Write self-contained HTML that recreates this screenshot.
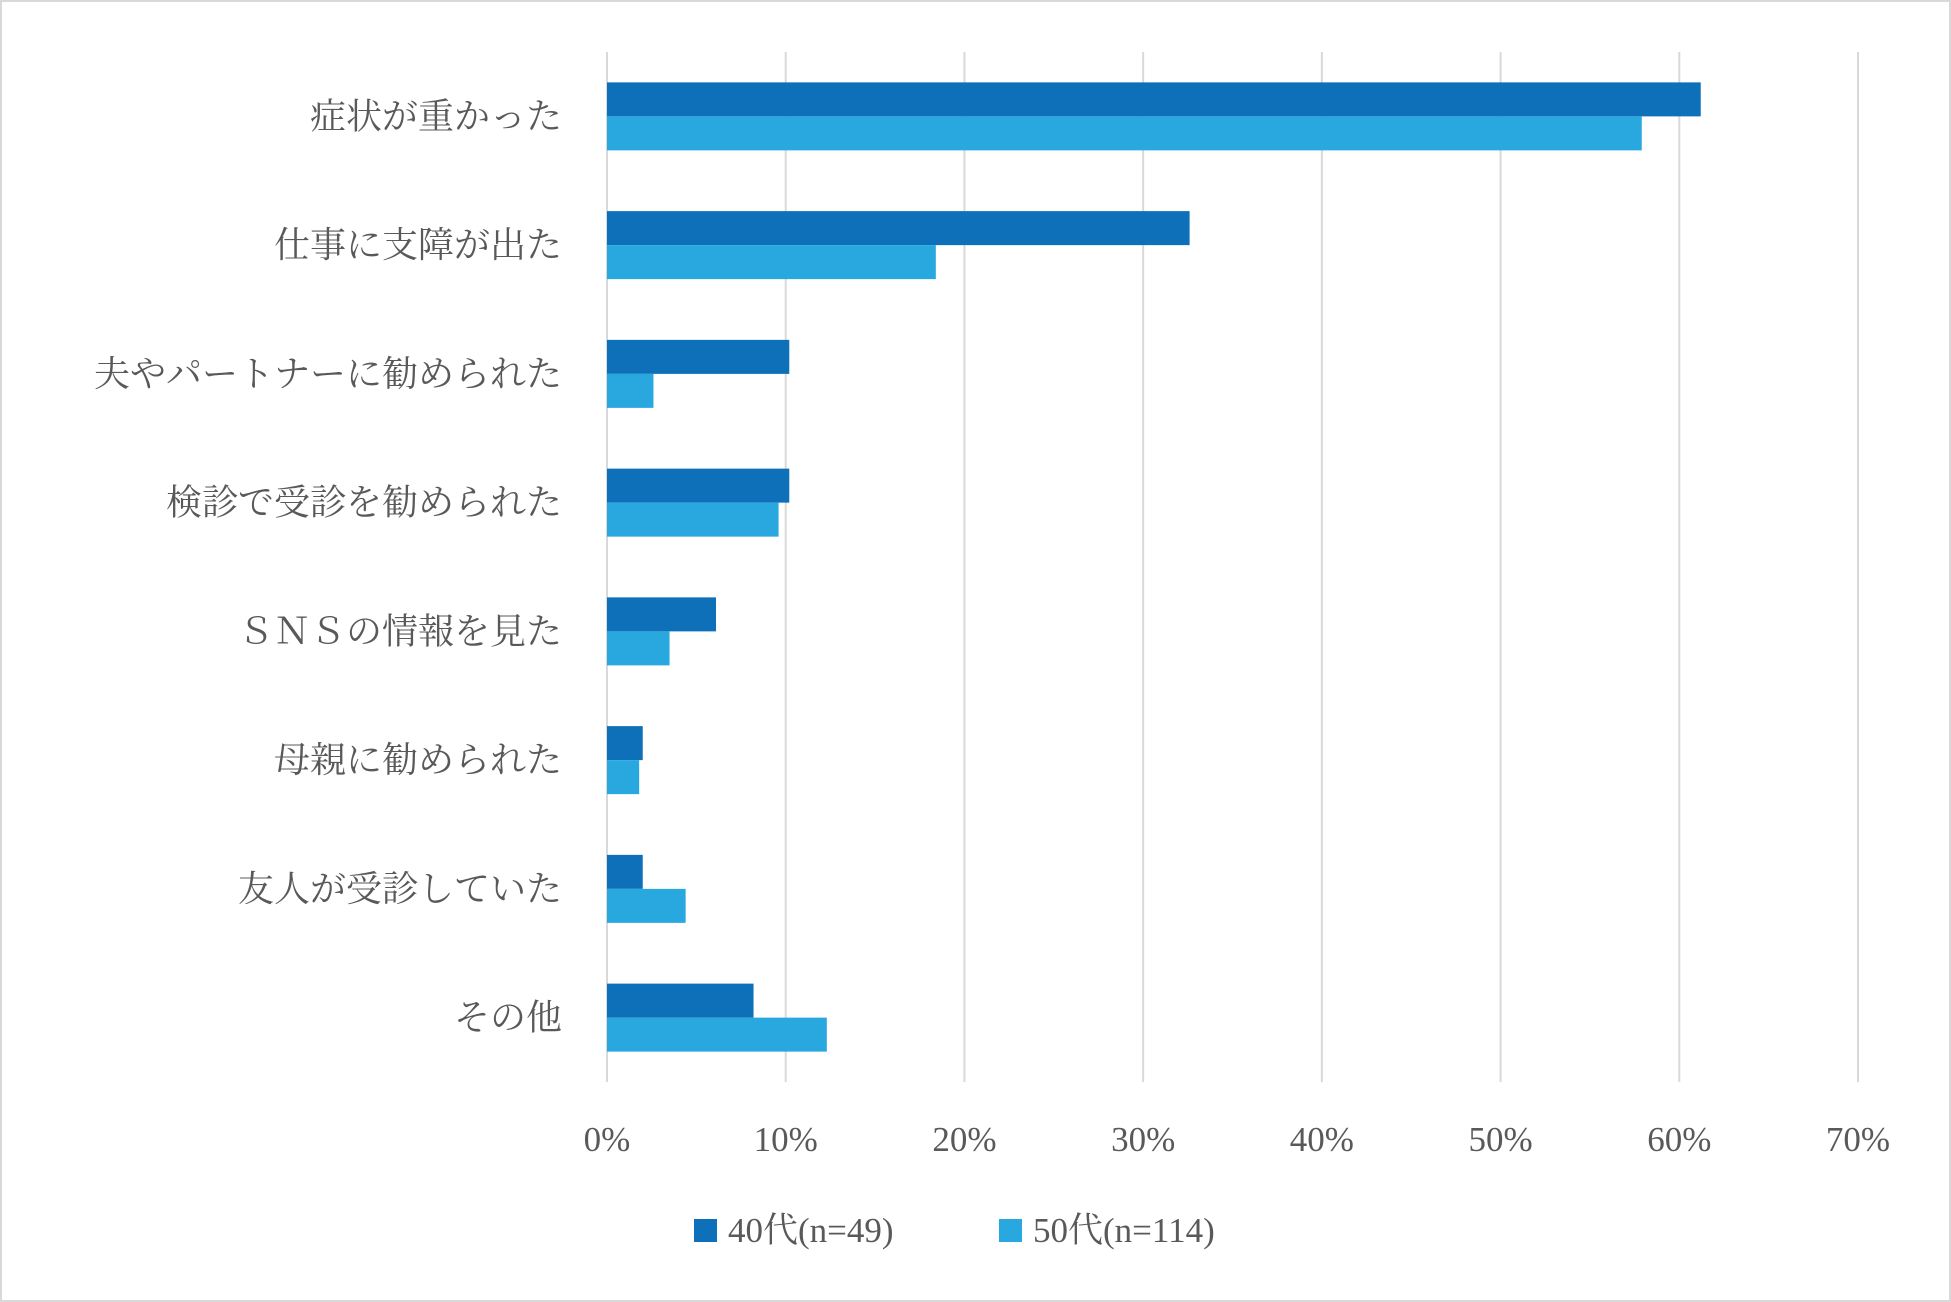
<!DOCTYPE html>
<html><head><meta charset="utf-8">
<style>
html,body{margin:0;padding:0;background:#fff;}
#wrap{position:relative;width:1951px;height:1302px;overflow:hidden;}
svg text{font-family:"Liberation Serif","Noto Serif CJK JP","Noto Serif CJK SC",serif;fill:#595959;}
</style></head>
<body>
<div id="wrap">
<svg id="chart" width="1951" height="1302">
<rect x="1" y="1" width="1949" height="1300" fill="#fff" stroke="#d9d9d9" stroke-width="2"/>
<g id="grid"></g><g id="bars"></g><g id="labels"></g><g id="ticks"></g><g id="legend"></g>
</svg>
</div>
<script>
const categories=["症状が重かった","仕事に支障が出た","夫やパートナーに勧められた","検診で受診を勧められた","ＳＮＳの情報を見た","母親に勧められた","友人が受診していた","その他"];
const series40=[61.2,32.6,10.2,10.2,6.1,2.0,2.0,8.2];
const series50=[57.9,18.4,2.6,9.6,3.5,1.8,4.4,12.3];
const tickValues=[0,10,20,30,40,50,60,70];
const tickLabels=["0%","10%","20%","30%","40%","50%","60%","70%"];
const seriesNames=["40代(n=49)","50代(n=114)"];

const NS="http://www.w3.org/2000/svg";
const X0=607,X1=1858,VMAX=70,Y0=52,Y1=1082;
const x=v=>X0+(v/VMAX)*(X1-X0);
const band=(Y1-Y0)/categories.length;
const y=i=>Y0+band*i;
function mk(tag,attrs,parent){const e=document.createElementNS(NS,tag);for(const k in attrs)e.setAttribute(k,attrs[k]);parent.appendChild(e);return e;}
const grid=document.getElementById('grid'),bars=document.getElementById('bars'),labels=document.getElementById('labels'),ticks=document.getElementById('ticks'),legend=document.getElementById('legend');
tickValues.forEach((t,i)=>{
  const l=mk('line',{x1:x(t),x2:x(t),y1:Y0,y2:Y1,stroke:'#d9d9d9','stroke-width':2},grid);
  
  
  const tx=mk('text',{x:x(t),y:1151,'text-anchor':'middle','font-size':35},ticks);
  tx.textContent=tickLabels[i];
  
  
});
const bh=34;
categories.forEach((c,i)=>{
  const cy=y(i)+band/2;
  const b1=mk('rect',{x:X0,y:cy-bh,width:x(series40[i])-X0,height:bh,fill:'#0e70b8'},bars);
  
  
  const b2=mk('rect',{x:X0,y:cy,width:x(series50[i])-X0,height:bh,fill:'#29a8e0'},bars);
  
  
  const t=mk('text',{x:562,y:cy+12,'text-anchor':'end','font-size':36},labels);
  t.textContent=c;
  
  
});
const lg=[[694,'#0e70b8'],[999,'#29a8e0']];
lg.forEach((p,i)=>{
  const r=mk('rect',{x:p[0],y:1219,width:23,height:23,fill:p[1]},legend);
  
  
  const t=mk('text',{x:p[0]+34,y:1242,'font-size':35},legend);
  t.textContent=seriesNames[i];
  
  
});
</script>
</body></html>
